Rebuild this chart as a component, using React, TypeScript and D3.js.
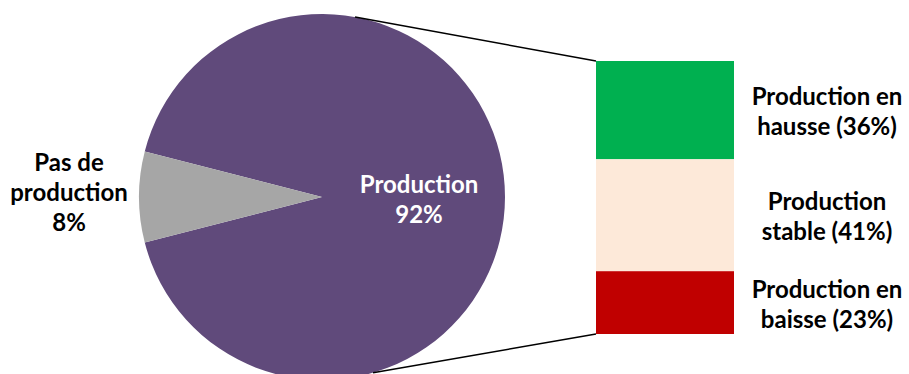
import React from "react";
import * as d3 from "d3";

// Main split
const pieLabels = ["Production", "Pas de production"];
const pieValues = [92, 8];
const pieColors = ["#604A7B", "#A6A6A6"];

// Breakdown of the "Production" slice
const barLabels = [
  ["Production en", "hausse (36%)"],
  ["Production", "stable (41%)"],
  ["Production en", "baisse (23%)"],
];
const barValues = [36, 41, 23];
const barColors = ["#00B050", "#FDE9D9", "#C00000"];

const W = 909;
const H = 374;
const cx = 322;
const cy = 197;
const R = 183;

const FONT = "Lato, 'Open Sans', sans-serif";

export default function App() {
  // Rotate so the small slice is centred on the left side
  const smallAngle = (pieValues[1] / d3.sum(pieValues)) * 2 * Math.PI;
  const offset = (3 * Math.PI) / 2 - smallAngle / 2; // small slice starts here
  const pie = d3
    .pie<number>()
    .sort(null)
    .value((d) => d)
    .startAngle(offset + smallAngle - 2 * Math.PI)
    .endAngle(offset + smallAngle);
  const arcs = pie(pieValues);
  const arcGen = d3.arc<d3.PieArcDatum<number>>().innerRadius(0).outerRadius(R);

  // Stacked bar
  const barX = 596;
  const barW = 138;
  const y = d3.scaleLinear().domain([0, d3.sum(barValues)]).range([61, 334]);
  let acc = 0;
  const segs = barValues.map((v, i) => {
    const s = { y0: y(acc), y1: y(acc + v), color: barColors[i], label: barLabels[i] };
    acc += v;
    return s;
  });

  // Connector lines from the pie edge to the bar corners
  const topA = (10.4 * Math.PI) / 180;
  const botA = (163.8 * Math.PI) / 180;
  const pt = (a: number) => [cx + R * Math.sin(a), cy - R * Math.cos(a)];
  const [tx, ty] = pt(topA);
  const [bx, by] = pt(botA);

  return (
    <svg width={W} height={H} style={{ position: "absolute", left: 0, top: 0 }}>
      <g transform={`translate(${cx},${cy})`}>
        {arcs.map((a, i) => (
          <path key={i} d={arcGen(a) || ""} fill={pieColors[i]} />
        ))}
      </g>
      <line x1={tx} y1={ty} x2={barX} y2={segs[0].y0} stroke="#000" strokeWidth={1.5} />
      <line x1={bx} y1={by} x2={barX} y2={segs[2].y1} stroke="#000" strokeWidth={1.5} />
      {segs.map((s, i) => (
        <rect key={i} x={barX} y={s.y0} width={barW} height={s.y1 - s.y0} fill={s.color} />
      ))}
      <g fontFamily={FONT} fontWeight="bold" fontSize={24} textAnchor="middle">
        <text x={419} y={193} fill="#fff">{pieLabels[0]}</text>
        <text x={419} y={223} fill="#fff">{pieValues[0]}%</text>
        <text x={69} y={171} fill="#000">Pas de</text>
        <text x={69} y={201} fill="#000">production</text>
        <text x={69} y={231} fill="#000">{pieValues[1]}%</text>
        {segs.map((s, i) => {
          const mid = (s.y0 + s.y1) / 2;
          return (
            <g key={i}>
              <text x={827} y={mid - 5} fill="#000">{s.label[0]}</text>
              <text x={827} y={mid + 25} fill="#000">{s.label[1]}</text>
            </g>
          );
        })}
      </g>
    </svg>
  );
}
